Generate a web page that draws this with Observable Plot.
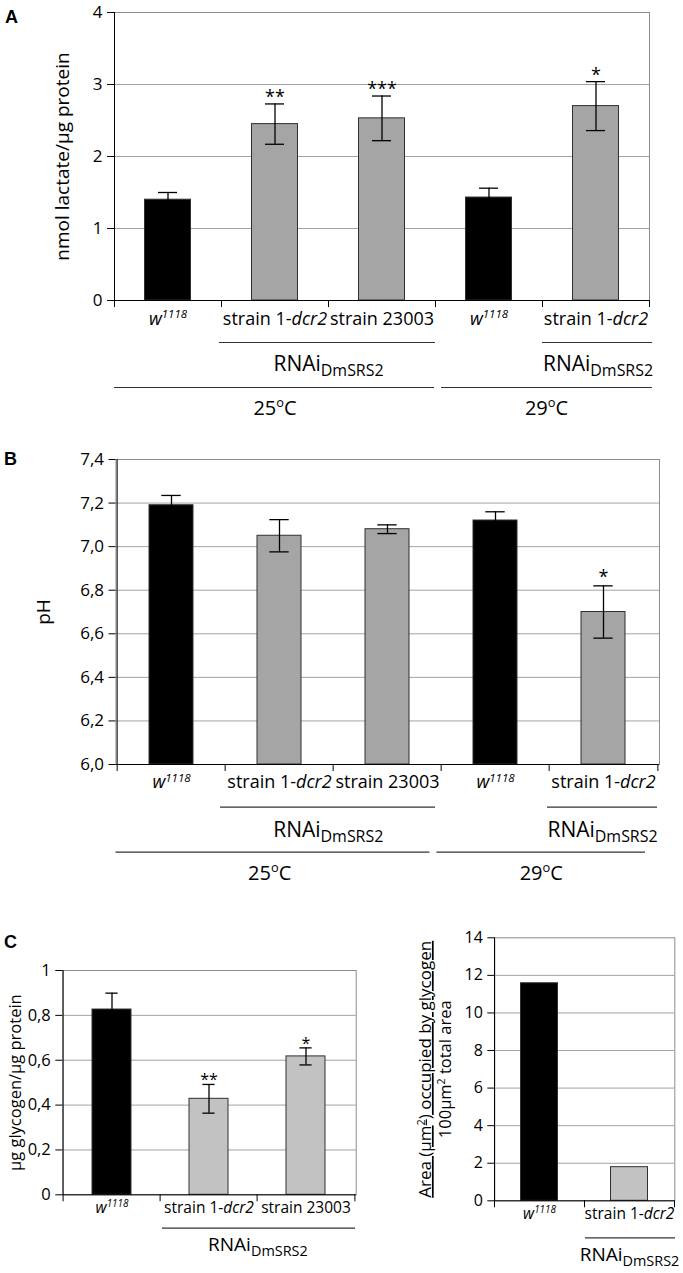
<!DOCTYPE html>
<html><head><meta charset="utf-8">
<script src="https://cdn.jsdelivr.net/npm/d3@7"></script>
<script src="https://cdn.jsdelivr.net/npm/@observablehq/plot@0.6"></script>
<style>
body{margin:0;background:#fff}
#fig{position:relative;width:683px;height:1273px;background:#fff;overflow:hidden}
#fig svg{position:absolute}
.letter{position:absolute;font:bold 18px "Liberation Sans",Arial,sans-serif;line-height:18px}
</style></head><body><div id="fig"></div>
<script>
// ---------- DATA ----------
// Panel A: lactate (nmol/µg protein)
const aKeys = ["w1118-25", "dcr2-25", "23003-25", "w1118-29", "dcr2-29"];
const aLabels = ["`w^{1118}`", "strain 1-`dcr2`", "strain 23003", "`w^{1118}`", "strain 1-`dcr2`"];
const aTypes = ["control", "rnai", "rnai", "control", "rnai"];
const aValues = [1.40, 2.45, 2.53, 1.43, 2.70];
const aErrors = [0.10, 0.28, 0.31, 0.13, 0.34];
const aStars = ["", "**", "***", "", "*"];
const aTicks = [0, 1, 2, 3, 4];
const aRnaiGroups = [["dcr2-25", "23003-25"], ["dcr2-29", "dcr2-29"]];
const aTempGroups = [["w1118-25", "23003-25"], ["w1118-29", "dcr2-29"]];

// Panel B: pH
const bKeys = aKeys;
const bLabels = aLabels;
const bTypes = aTypes;
const bValues = [7.19, 7.05, 7.08, 7.12, 6.70];
const bErrors = [0.045, 0.074, 0.02, 0.04, 0.12];
const bStars = ["", "", "", "", "*"];
const bTicks = [6.0, 6.2, 6.4, 6.6, 6.8, 7.0, 7.2, 7.4];
const bRnaiGroups = aRnaiGroups;
const bTempGroups = aTempGroups;

// Panel C (left): glycogen (µg/µg protein)
const cKeys = ["w1118", "dcr2", "23003"];
const cLabels = ["`w^{1118}`", "strain 1-`dcr2`", "strain 23003"];
const cTypes = ["control", "rnai", "rnai"];
const cValues = [0.826, 0.428, 0.617];
const cErrors = [0.073, 0.064, 0.038];
const cStars = ["", "**", "*"];
const cTicks = [0, 0.2, 0.4, 0.6, 0.8, 1];
const cRnaiGroups = [["dcr2", "23003"]];

// Panel C (right): glycogen area
const dKeys = ["w1118", "dcr2"];
const dLabels = ["`w^{1118}`", "strain 1-`dcr2`"];
const dTypes = ["control", "rnai"];
const dValues = [11.58, 1.79];
const dTicks = [0, 2, 4, 6, 8, 10, 12, 14];
const dRnaiGroups = [["dcr2", "dcr2"]];

const rnaiLabel = "RNAi_{DmSRS2}";
const tempLabels = ["25^{o}C", "29^{o}C"];

// ---------- RENDERING ----------
const comma = d => String(d).replace(".", ",");
const comma1 = d => d.toFixed(1).replace(".", ",");

function richify(svg) {
  for (const t of svg.querySelectorAll("text")) {
    let s = t.textContent;
    if (!/[`^_~]/.test(s)) continue;
    let underline = false;
    if (s.startsWith("~")) { underline = true; s = s.slice(1); }
    let el = t, fs = 16;
    while (el && el !== svg.parentNode) {
      const a = el.getAttribute && el.getAttribute("font-size");
      if (a) { fs = parseFloat(a); break; }
      el = el.parentNode;
    }
    const segs = []; let italic = false, mode = null, buf = "";
    const flush = () => { if (buf) segs.push({text: buf, italic, mode}); buf = ""; };
    for (let i = 0; i < s.length; i++) {
      const c = s[i];
      if (c === "`") { flush(); italic = !italic; continue; }
      if ((c === "^" || c === "_") && s[i + 1] === "{") { flush(); mode = c === "^" ? "sup" : "sub"; i++; continue; }
      if (c === "}" && mode) { flush(); mode = null; continue; }
      buf += c;
    }
    flush();
    t.textContent = "";
    let shift = 0;
    for (const sg of segs) {
      const ts = document.createElementNS("http://www.w3.org/2000/svg", "tspan");
      const target = sg.mode === "sup" ? -0.36 * fs : sg.mode === "sub" ? 0.26 * fs : 0;
      if (target !== shift) ts.setAttribute("dy", (target - shift).toFixed(2));
      shift = target;
      if (sg.mode) ts.setAttribute("font-size", (fs * (sg.mode === "sub" ? 0.76 : 0.64)).toFixed(2));
      if (sg.italic) ts.setAttribute("font-style", "italic");
      ts.textContent = sg.text;
      t.appendChild(ts);
    }
    if (underline) t.setAttribute("text-decoration", "underline");
  }
}

function panel(cfg, L) {
  const n = cfg.keys.length;
  const bw = (L.width - L.m.left - L.m.right) / n;
  const y0 = cfg.domain[0];
  const idx = k => cfg.keys.indexOf(k);
  const data = cfg.keys.map((key, i) => ({
    key, label: cfg.labels[i], type: cfg.types[i], value: cfg.values[i],
    err: cfg.errors ? cfg.errors[i] : 0, star: cfg.stars ? cfg.stars[i] : ""
  }));
  const marks = [
    Plot.ruleY(cfg.ticks.filter(t => t > cfg.domain[0] && t < cfg.domain[1]), {stroke: "#a3a3a3"}),
    Plot.frame({stroke: "#8c8c8c"}),
    Plot.barY(data, {x: "key", y1: () => y0, y2: "value",
      fill: d => d.type === "control" ? "#000000" : L.gray, stroke: "#303030",
      insetLeft: L.barInset, insetRight: L.barInset})
  ];
  if (cfg.errors) {
    const cap = {x: "key", insetLeft: L.capInset, insetRight: L.capInset, stroke: "#000", strokeWidth: 1.3};
    marks.push(
      Plot.ruleX(data, {x: "key", y1: d => d.value - d.err, y2: d => d.value + d.err, stroke: "#000", strokeWidth: 1.3}),
      Plot.tickY(data, {...cap, y: d => d.value + d.err}),
      Plot.tickY(data, {...cap, y: d => d.value - d.err}),
      Plot.text(data.filter(d => d.star), {x: "key", y: d => d.value + d.err, text: "star",
        lineAnchor: "bottom", dy: L.starDy, fontSize: L.starFont})
    );
  }
  marks.push(
    Plot.ruleX([cfg.keys[0]], {dx: -bw / 2, stroke: "#000"}),
    Plot.ruleY([y0], {stroke: "#000"}),
    Plot.ruleX(cfg.keys, {y1: () => y0, y2: () => y0, dx: -bw / 2, insetBottom: -7, stroke: "#000"}),
    Plot.ruleX([cfg.keys[n - 1]], {y1: () => y0, y2: () => y0, dx: bw / 2, insetBottom: -7, stroke: "#000"}),
    Plot.axisY({ticks: cfg.ticks, tickFormat: cfg.fmt, tickSize: 7, tickPadding: 5, fontSize: L.tickFont, label: null}),
    Plot.text(data, {x: "key", text: "label", frameAnchor: "bottom", dy: L.labelDy, fontSize: L.labelFont})
  );
  const addGroups = (groups, labels, G) => {
    groups.forEach(([from, to], i) => {
      const span = idx(to) - idx(from) + 1;
      const g = G.items[i];
      marks.push(
        Plot.ruleY([0], {y: () => y0, x1: () => from, x2: () => to, dy: G.lineDy,
          insetLeft: g.il, insetRight: g.ir, stroke: "#333", strokeWidth: 1.2}),
        Plot.text([labels[i]], {x: () => from, text: d => d, frameAnchor: "bottom",
          dy: G.textDy, dx: (span - 1) * bw / 2 + g.tdx, fontSize: G.font})
      );
    });
  };
  if (cfg.rnai) addGroups(cfg.rnai, cfg.rnai.map(() => rnaiLabel), L.rnai);
  if (cfg.temp) addGroups(cfg.temp, tempLabels, L.temp);
  L.yLabels.forEach((yl, i) => marks.push(
    Plot.text([cfg.yLabel[i]], {text: d => d, frameAnchor: "left", textAnchor: "middle",
      rotate: -90, dx: yl.dx, fontSize: yl.font})
  ));
  const svg = Plot.plot({
    width: L.width, height: L.height,
    marginTop: L.m.top, marginRight: L.m.right, marginBottom: L.m.bottom, marginLeft: L.m.left,
    x: {type: "band", domain: cfg.keys, padding: 0, axis: null},
    y: {domain: cfg.domain},
    color: {type: "identity"},
    style: {fontFamily: "'Open Sans', sans-serif", background: "transparent", overflow: "visible", color: "#000"},
    marks
  });
  svg.style.left = L.left + "px";
  svg.style.top = L.top + "px";
  richify(svg);
  document.getElementById("fig").appendChild(svg);
}

panel(
  {keys: aKeys, labels: aLabels, types: aTypes, values: aValues, errors: aErrors, stars: aStars,
   ticks: aTicks, domain: [0, 4], fmt: d => String(d), rnai: aRnaiGroups, temp: aTempGroups,
   yLabel: ["nmol lactate/µg protein"]},
  {left: 0, top: 0, width: 683, height: 430, m: {top: 12, right: 34, bottom: 130, left: 114},
   gray: "#a5a5a5", barInset: 30.5, capInset: 44, starDy: -1, starFont: 18, tickFont: 17,
   labelDy: 24, labelFont: 18,
   rnai: {lineDy: 42, textDy: 70, font: 21, items: [{il: -2, ir: 0, tdx: 0}, {il: 0, ir: -3, tdx: 2}]},
   temp: {lineDy: 87, textDy: 114, font: 20, items: [{il: 0, ir: 1, tdx: 0}, {il: 6, ir: -3, tdx: 4}]},
   yLabels: [{dx: -52, font: 19}]}
);

panel(
  {keys: bKeys, labels: bLabels, types: bTypes, values: bValues, errors: bErrors, stars: bStars,
   ticks: bTicks, domain: [6.0, 7.4], fmt: comma1, rnai: bRnaiGroups, temp: bTempGroups,
   yLabel: ["pH"]},
  {left: 0, top: 440, width: 683, height: 450, m: {top: 19, right: 24, bottom: 126, left: 115.5},
   gray: "#a5a5a5", barInset: 32, capInset: 44.3, starDy: -3, starFont: 18, tickFont: 17,
   labelDy: 23.5, labelFont: 18,
   rnai: {lineDy: 42.7, textDy: 72, font: 21, items: [{il: -5, ir: 6, tdx: -5.6}, {il: -2, ir: 0, tdx: -1}]},
   temp: {lineDy: 87.7, textDy: 115, font: 20, items: [{il: -1.5, ir: 11.6, tdx: -10.5}, {il: -4.6, ir: 12, tdx: -8.6}]},
   yLabels: [{dx: -72.5, font: 19}]}
);

panel(
  {keys: cKeys, labels: cLabels, types: cTypes, values: cValues, errors: cErrors, stars: cStars,
   ticks: cTicks, domain: [0, 1], fmt: comma, rnai: cRnaiGroups,
   yLabel: ["µg glycogen/µg protein"]},
  {left: 0, top: 900, width: 380, height: 373, m: {top: 70, right: 24.3, bottom: 78.7, left: 62.3},
   gray: "#c2c2c2", barInset: 29, capInset: 42.4, starDy: 1, starFont: 16, tickFont: 16.5,
   labelDy: 18, labelFont: 15.5,
   rnai: {lineDy: 33.4, textDy: 56, font: 19, items: [{il: 2, ir: -1, tdx: 0}]},
   yLabels: [{dx: -47.3, font: 16.5}]}
);

panel(
  {keys: dKeys, labels: dLabels, types: dTypes, values: dValues,
   ticks: dTicks, domain: [0, 14], fmt: d => String(d), rnai: dRnaiGroups,
   yLabel: ["~Area (µm^{2}) occupied by glycogen", "100µm^{2} total area"]},
  {left: 380, top: 900, width: 303, height: 373, m: {top: 37.3, right: 8.7, bottom: 72.7, left: 114.3},
   gray: "#c2c2c2", barInset: 26.5, tickFont: 16, labelDy: 18, labelFont: 15.5,
   rnai: {lineDy: 37, textDy: 60, font: 19, items: [{il: 1, ir: -1, tdx: 0}]},
   yLabels: [{dx: -69.3, font: 17}, {dx: -49.3, font: 16.5}]}
);

// panel letters
[["A", 5, 8], ["B", 4, 449.5], ["C", 4, 932.5]].forEach(([t, x, y]) => {
  const d = document.createElement("div");
  d.className = "letter"; d.textContent = t;
  d.style.left = x + "px"; d.style.top = y + "px";
  document.getElementById("fig").appendChild(d);
});
</script></body></html>
